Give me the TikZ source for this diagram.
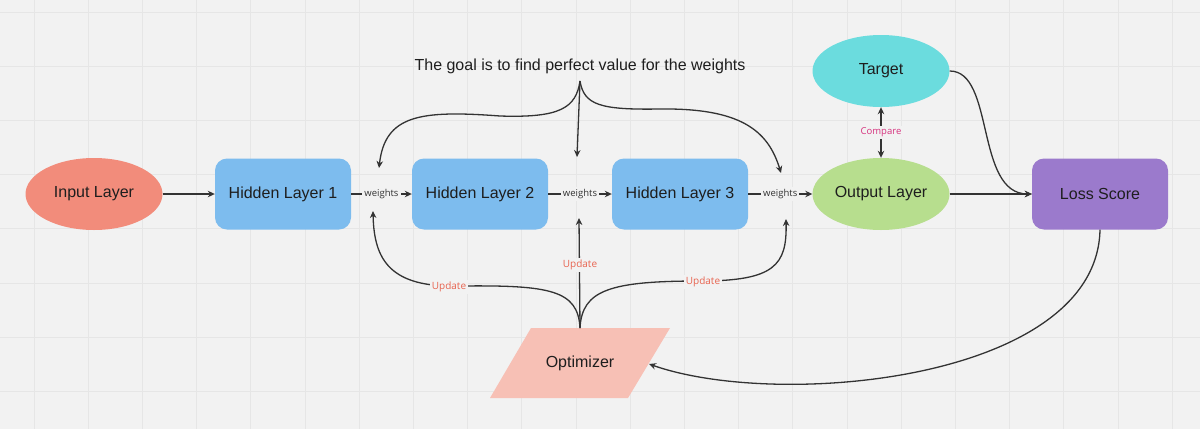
\documentclass[tikz,border=0pt]{standalone}
\usepackage{fontspec}
\setmainfont{Liberation Sans}
\newfontfamily\smallfont{Open Sans}
\usetikzlibrary{shapes.geometric,arrows.meta}
\definecolor{bg}{HTML}{F2F2F2}
\definecolor{gridc}{HTML}{E6E6E6}
\definecolor{linec}{HTML}{333333}
\definecolor{txt}{HTML}{1E1E1E}
\definecolor{inpc}{HTML}{F28C7B}
\definecolor{hidc}{HTML}{7DBCEE}
\definecolor{outc}{HTML}{B7DE8E}
\definecolor{tgtc}{HTML}{6BDCDE}
\definecolor{lossc}{HTML}{9B7ACC}
\definecolor{optc}{HTML}{F7C0B5}
\definecolor{updc}{HTML}{E86450}
\definecolor{cmpc}{HTML}{D6337F}
\tikzset{
  mainfont/.style={font=\fontsize{16}{19}\selectfont, text=txt},
  boxnode/.style={mainfont, rounded corners=12pt, minimum width=136pt, minimum height=71pt, inner sep=0pt},
  ellnode/.style={mainfont, ellipse, minimum width=137pt, minimum height=72pt, inner sep=0pt},
  tip/.style={-{Stealth[length=7pt,width=6.5pt]}},
  conn/.style={draw=linec, line width=1.3pt, tip},
  wlbl/.style={fill=bg, inner sep=2pt, font=\smallfont\fontsize{9.5}{11}\selectfont, text=linec},
  ulbl/.style={fill=bg, inner sep=2pt, font=\smallfont\fontsize{10}{12}\selectfont, text=updc},
  clbl/.style={fill=bg, inner sep=2pt, font=\smallfont\fontsize{9.5}{11}\selectfont, text=cmpc},
  gridline/.style={draw=gridc, line width=0.8pt}
}
\begin{document}
\begin{tikzpicture}[x=1pt,y=-1pt]
\fill[bg] (0,0) rectangle (1200,429);
\useasboundingbox (0,0) rectangle (1200,429);
\foreach \i in {0,...,21} { \draw[gridline] ({34+54.2*\i},0) -- ({34+54.2*\i},429); }
\foreach \j in {0,...,7} { \draw[gridline] (0,{12+54.2*\j}) -- (1200,{12+54.2*\j}); }

% nodes
\node[ellnode, fill=inpc] (in) at (94,194) {Input Layer};
\node[boxnode, fill=hidc] (h1) at (283,194) {Hidden Layer 1};
\node[boxnode, fill=hidc] (h2) at (480,194) {Hidden Layer 2};
\node[boxnode, fill=hidc] (h3) at (680,194) {Hidden Layer 3};
\node[ellnode, fill=outc] (out) at (881,194) {Output Layer};
\node[ellnode, fill=tgtc] (tgt) at (881,71) {Target};
\node[boxnode, fill=lossc] (loss) at (1100,194) {Loss Score};
\fill[optc] (531,328) -- (670,328) -- (628,398) -- (490,398) -- cycle;
\node[mainfont] (opt) at (580,363) {Optimizer};
\node[mainfont] (title) at (580,66) {The goal is to find perfect value for the weights};

% coordinates
\coordinate (tb) at (580,81);
\coordinate (w1t) at (379,168);
\coordinate (w2t) at (577,157);
\coordinate (w3t) at (781,173);
\coordinate (ot) at (580,328);
\coordinate (w1b) at (373,211);
\coordinate (w2b) at (579,218);
\coordinate (w3b) at (786,219);
\coordinate (u1) at (460,286);
\coordinate (u3) at (700,281);
\coordinate (optR) at (649,364);

% main flow
\draw[conn] (in) -- (h1);
\draw[conn] (h1) -- node[wlbl]{weights} (h2);
\draw[conn] (h2) -- node[wlbl]{weights} (h3);
\draw[conn] (h3) -- node[wlbl]{weights} (out);
\draw[conn] (out) -- (loss);
\draw[draw=linec, line width=1.3pt, {Stealth[length=7pt,width=6.5pt]}-{Stealth[length=7pt,width=6.5pt]}] (tgt.south) -- node[clbl]{Compare} (out.north);
\draw[conn] (tgt.east) .. controls (995,71) and (975,194) .. (loss.west);
\draw[conn] (loss.south) .. controls (1097,380) and (780,410) .. (optR);

% goal arrows
\draw[conn] (tb) .. controls (576,108) and (560,118) .. (500,116) .. controls (420,110) and (385,115) .. (w1t);
\draw[conn] (tb) -- (w2t);
\draw[conn] (tb) .. controls (584,105) and (600,110) .. (660,109) .. controls (740,108) and (768,130) .. (w3t);

% update arrows
\draw[conn] (ot) .. controls (578,290) and (550,285) .. (u1) .. controls (390,288) and (374,260) .. (w1b);
\draw[conn] (ot) -- (w2b);
\draw[conn] (ot) .. controls (582,290) and (610,281) .. (u3) .. controls (775,281) and (787,265) .. (w3b);
\node[ulbl] at (449,287) {Update};
\node[ulbl] at (580,265) {Update};
\node[ulbl] at (703,282) {Update};
\end{tikzpicture}
\end{document}
